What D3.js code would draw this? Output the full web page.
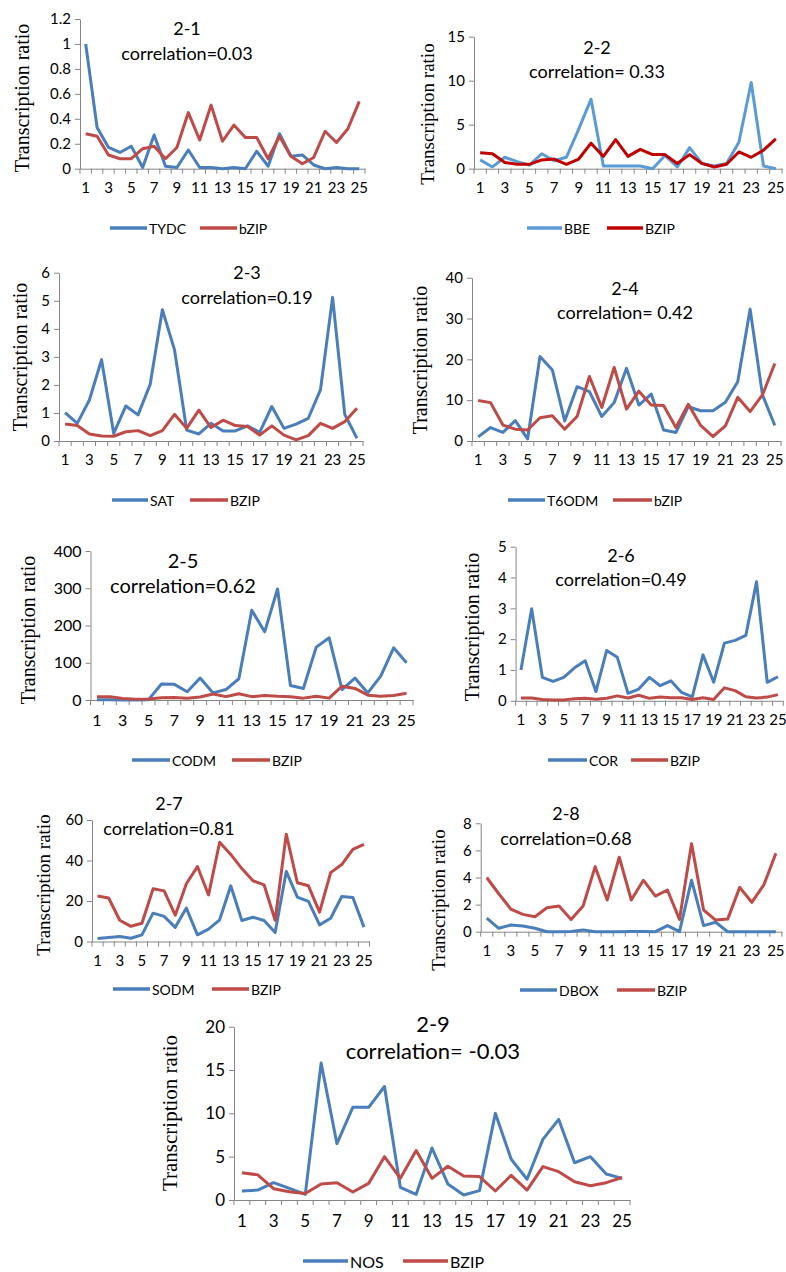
<!DOCTYPE html>
<html>
<head>
<meta charset="utf-8">
<script src="https://cdn.jsdelivr.net/npm/d3@7"></script>
<style>
  body { margin: 0; background: #fff; }
  svg text { font-family: Lato, "Open Sans", sans-serif; fill: #000; }
  .ylab { font-family: "Liberation Serif", "Times New Roman", serif; }
</style>
</head>
<body>
<script>
// categories (samples 1..25)
const categories = [1,2,3,4,5,6,7,8,9,10,11,12,13,14,15,16,17,18,19,20,21,22,23,24,25];

// 2-1
const tydc  = [1.0,0.33,0.17,0.13,0.18,0.01,0.27,0.02,0.01,0.15,0.01,0.01,0.0,0.01,0.0,0.14,0.02,0.28,0.10,0.11,0.03,0.0,0.01,0.0,0.0];
const bzip1 = [0.28,0.26,0.11,0.08,0.08,0.16,0.18,0.08,0.17,0.45,0.23,0.51,0.22,0.35,0.25,0.25,0.08,0.26,0.10,0.04,0.09,0.30,0.21,0.32,0.54];
// 2-2
const bbe   = [1.0,0.2,1.3,0.8,0.4,1.7,0.9,1.3,4.5,7.9,0.3,0.3,0.3,0.3,0.0,1.5,0.2,2.4,0.6,0.3,0.6,3.0,9.8,0.3,0.0];
const bzip2 = [1.8,1.7,0.7,0.5,0.5,1.0,1.1,0.5,1.1,2.9,1.4,3.3,1.4,2.2,1.6,1.6,0.6,1.6,0.6,0.2,0.5,1.9,1.3,2.1,3.4];
// 2-3
const sat   = [1.01,0.63,1.46,2.9,0.27,1.25,0.93,2.02,4.68,3.25,0.39,0.25,0.63,0.36,0.36,0.54,0.31,1.23,0.45,0.6,0.81,1.82,5.12,0.95,0.1];
const bzip3 = [0.61,0.55,0.25,0.18,0.17,0.33,0.37,0.19,0.37,0.95,0.45,1.1,0.48,0.74,0.55,0.52,0.21,0.54,0.21,0.04,0.19,0.63,0.45,0.69,1.17];
// 2-4
const t6odm = [1.0,3.3,2.1,5.0,0.5,20.7,17.4,4.9,13.3,12.1,6.0,9.4,17.8,8.8,11.5,2.7,2.1,8.4,7.4,7.4,9.5,14.5,32.3,11.3,3.8];
const bzip4 = [9.9,9.4,3.9,2.9,2.7,5.7,6.2,2.9,6.0,15.8,8.2,18.0,7.8,12.2,8.8,8.7,3.3,9.0,3.8,1.1,3.7,10.7,7.2,11.3,19.0];
// 2-5
const codm  = [1,1,0,0,1,43,42,22,59,19,28,57,241,183,298,39,31,142,167,28,59,19,64,140,100];
const bzip5 = [9,9,4,2,3,6,7,5,8,16,9,17,9,12,10,9,5,10,5,37,31,13,10,12,18];
// 2-6
const cor   = [1.0,2.99,0.76,0.63,0.76,1.07,1.3,0.3,1.63,1.41,0.24,0.38,0.76,0.49,0.65,0.27,0.13,1.49,0.6,1.87,1.96,2.12,3.86,0.6,0.78];
const bzip6 = [0.09,0.09,0.04,0.03,0.03,0.07,0.08,0.05,0.08,0.16,0.09,0.18,0.08,0.12,0.1,0.1,0.04,0.1,0.04,0.42,0.33,0.13,0.09,0.12,0.2];
// 2-7
const sodm  = [1.5,2.0,2.5,1.6,3.3,14,12.4,7,16.5,3.3,6.1,10.7,27.5,10.4,12,10.4,4.4,34.6,21.9,19.8,8.2,11.5,22.2,21.7,7.1];
const bzip7 = [22.5,21.5,10.5,7.5,9,26,25,13,28.5,37,23,49,43,36,30,28,10.5,53,29,27.5,14.5,34,38,45.5,48];
// 2-8
const dbox  = [1.0,0.25,0.49,0.42,0.25,0.0,0.0,0.02,0.12,0.0,0.0,0.0,0.02,0.02,0.0,0.45,0.0,3.8,0.45,0.7,0.0,0.0,0.0,0.0,0.0];
const bzip8 = [4.0,2.8,1.67,1.28,1.1,1.77,1.9,0.9,1.9,4.8,2.34,5.5,2.34,3.8,2.63,3.08,0.9,6.5,1.6,0.86,0.93,3.27,2.17,3.45,5.79];
// 2-9
const nos   = [1.04,1.15,2.0,1.35,0.65,15.8,6.5,10.7,10.7,13.1,1.46,0.65,6.0,1.85,0.58,1.08,10.0,4.7,2.4,7.0,9.3,4.3,5.0,3.0,2.5];
const bzip9 = [3.15,2.9,1.3,0.96,0.75,1.85,2.0,0.92,1.92,5.0,2.5,5.7,2.5,3.9,2.77,2.7,1.04,2.85,1.15,3.85,3.27,2.1,1.65,2.0,2.6];

// y tick labels
const yTicks1 = [0,0.2,0.4,0.6,0.8,1,1.2];
const yTicks2 = [0,5,10,15];
const yTicks3 = [0,1,2,3,4,5,6];
const yTicks4 = [0,10,20,30,40];
const yTicks5 = [0,100,200,300,400];
const yTicks6 = [0,1,2,3,4,5];
const yTicks7 = [0,20,40,60];
const yTicks8 = [0,2,4,6,8];
const yTicks9 = [0,5,10,15,20];

const BLUE = "#4A7EBB", RED = "#BE4B48";

const panels = [
  { title:"2-1", corr:"correlation=0.03", s:[tydc,bzip1], names:["TYDC","bZIP"], colors:[BLUE,RED], ticks:yTicks1, ymax:1.2,
    l:80, r:365, top:19, bottom:168.7, tx:187, ty:28, cy:53, fs:18, tick:15,
    ylx:22, yly:98, ylfs:20, legY:228, leg:[[110,147],[200,237]], legFs:14 },
  { title:"2-2", corr:"correlation= 0.33", s:[bbe,bzip2], names:["BBE","BZIP"], colors:["#5B9BD5","#C00000"], ticks:yTicks2, ymax:15,
    l:474, r:782, top:36.7, bottom:168.7, tx:597, ty:47, cy:71, fs:18, tick:15,
    ylx:427, yly:114, ylfs:19, legY:228, leg:[[527,562],[607,643]], legFs:14 },
  { title:"2-3", corr:"correlation=0.19", s:[sat,bzip3], names:["SAT","BZIP"], colors:[BLUE,RED], ticks:yTicks3, ymax:6,
    l:59, r:363, top:272.7, bottom:441, tx:247, ty:272, cy:297, fs:18, tick:15,
    ylx:20, yly:357, ylfs:20, legY:500, leg:[[112,148],[190,228]], legFs:14 },
  { title:"2-4", corr:"correlation= 0.42", s:[t6odm,bzip4], names:["T6ODM","bZIP"], colors:[BLUE,RED], ticks:yTicks4, ymax:40,
    l:472, r:781, top:277.7, bottom:441, tx:625, ty:288, cy:312, fs:18, tick:15,
    ylx:420, yly:360, ylfs:20, legY:500, leg:[[508,545],[613,652]], legFs:14 },
  { title:"2-5", corr:"correlation=0.62", s:[codm,bzip5], names:["CODM","BZIP"], colors:[BLUE,RED], ticks:yTicks5, ymax:400,
    l:90.5, r:413, top:551, bottom:700, tx:183, ty:560, cy:585, fs:20, tick:16,
    ylx:28, yly:630, ylfs:20, legY:760, leg:[[132,170],[232,270]], legFs:14 },
  { title:"2-6", corr:"correlation=0.49", s:[cor,bzip6], names:["COR","BZIP"], colors:[BLUE,RED], ticks:yTicks6, ymax:5,
    l:515.6, r:783.3, top:546.7, bottom:700.8, tx:621, ty:555, cy:579, fs:18, tick:15,
    ylx:472, yly:627, ylfs:20, legY:760, leg:[[548,587],[631,668]], legFs:14 },
  { title:"2-7", corr:"correlation=0.81", s:[sodm,bzip7], names:["SODM","BZIP"], colors:[BLUE,RED], ticks:yTicks7, ymax:60,
    l:92, r:369.5, top:820, bottom:941.5, tx:169, ty:803, cy:828, fs:18, tick:15,
    ylx:43, yly:885, ylfs:19, legY:989, leg:[[113,150],[212,249]], legFs:14 },
  { title:"2-8", corr:"correlation=0.68", s:[dbox,bzip8], names:["DBOX","BZIP"], colors:[BLUE,RED], ticks:yTicks8, ymax:8,
    l:480.7, r:781.9, top:823.3, bottom:931.7, tx:566, ty:813, cy:838, fs:18, tick:15,
    ylx:438, yly:900, ylfs:19, legY:990, leg:[[520,557],[617,655]], legFs:14 },
  { title:"2-9", corr:"correlation= -0.03", s:[nos,bzip9], names:["NOS","BZIP"], colors:[BLUE,RED], ticks:yTicks9, ymax:20,
    l:234, r:630, top:1026.7, bottom:1200, tx:433, ty:1023, cy:1050, fs:22, tick:17,
    ylx:170, yly:1113, ylfs:21, legY:1261, leg:[[303,348],[403,448]], legFs:16 }
];

const svg = d3.select("body").append("svg")
  .attr("width", 786).attr("height", 1272);

function drawPanel(p) {
  const x = d3.scaleBand().domain(categories).range([p.l, p.r]);
  const y = d3.scaleLinear().domain([0, p.ymax]).range([p.bottom, p.top]);
  const g = svg.append("g");

  // y axis
  const ya = g.append("g")
    .attr("transform", `translate(${p.l},0)`)
    .call(d3.axisLeft(y).tickValues(p.ticks).tickSize(5).tickSizeOuter(0).tickPadding(4).tickFormat(d => String(d)));
  ya.selectAll("path, line").attr("stroke", "#868686");
  ya.selectAll("text").style("font-size", p.tick + "px").attr("fill", "#000");

  // x axis, labels on odd categories
  const xa = g.append("g")
    .attr("transform", `translate(0,${p.bottom})`)
    .call(d3.axisBottom(x).tickSize(0).tickPadding(p.tick * 0.9).tickFormat(d => d % 2 ? d : ""));
  xa.select(".domain").attr("stroke", "#868686");
  xa.selectAll("text").style("font-size", p.tick + "px").attr("fill", "#000");

  // tick marks at category boundaries
  const bounds = categories.map(c => x(c)).concat([x.range()[1]]);
  g.selectAll(".xtick").data(bounds).join("line")
    .attr("x1", d => d).attr("x2", d => d)
    .attr("y1", p.bottom).attr("y2", p.bottom + 5)
    .attr("stroke", "#868686");

  // series lines
  const line = d3.line()
    .x((d, i) => x(categories[i]) + x.bandwidth() / 2)
    .y(d => y(d));
  p.s.forEach((vals, k) => {
    g.append("path").datum(vals)
      .attr("d", line)
      .attr("fill", "none")
      .attr("stroke", p.colors[k])
      .attr("stroke-width", 3)
      .attr("stroke-linejoin", "round");
  });

  // title + correlation
  g.append("text").attr("x", p.tx).attr("y", p.ty)
    .attr("text-anchor", "middle").attr("dominant-baseline", "central")
    .style("font-size", p.fs + "px").text(p.title);
  g.append("text").attr("x", p.tx).attr("y", p.cy)
    .attr("text-anchor", "middle").attr("dominant-baseline", "central")
    .style("font-size", p.fs + "px").text(p.corr);

  // y axis title
  g.append("text").attr("class", "ylab")
    .attr("transform", `translate(${p.ylx},${p.yly}) rotate(-90)`)
    .attr("text-anchor", "middle").attr("dominant-baseline", "central")
    .style("font-size", p.ylfs + "px").text("Transcription ratio");

  // legend
  p.leg.forEach((seg, k) => {
    g.append("line")
      .attr("x1", seg[0]).attr("x2", seg[1])
      .attr("y1", p.legY).attr("y2", p.legY)
      .attr("stroke", p.colors[k]).attr("stroke-width", 3.5);
    g.append("text").attr("x", seg[1] + 2).attr("y", p.legY)
      .attr("dominant-baseline", "central")
      .style("font-size", p.legFs + "px").text(p.names[k]);
  });
}

panels.forEach(drawPanel);
</script>
</body>
</html>
